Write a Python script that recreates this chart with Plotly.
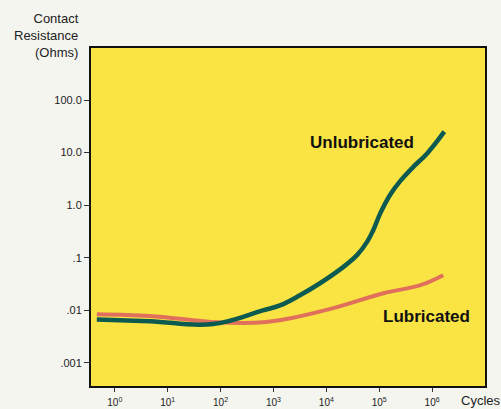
import plotly.graph_objects as go

# Contact resistance (ohms) versus switching cycles
unlub_cycles = [0.457, 4.57, 72, 631, 1330, 3160, 7590, 18200, 38000, 58900,
                77600, 105000, 162000, 251000, 437000, 813000, 1700000]
unlub_ohms = [0.0067, 0.0062, 0.0055, 0.0100, 0.0124, 0.0193, 0.0327, 0.0600, 0.112, 0.200,
              0.340, 0.705, 1.60, 2.90, 5.30, 9.77, 25.0]

lub_cycles = [0.457, 4.57, 89, 631, 1995, 13490, 120000, 603000, 1620000]
lub_ohms = [0.0084, 0.0078, 0.0059, 0.0059, 0.0070, 0.0110, 0.0211, 0.0300, 0.0464]

x_tickvals = [1, 10, 100, 1000, 10000, 100000, 1000000]
x_ticktext = ["10<sup>0</sup>", "10<sup>1</sup>", "10<sup>2</sup>", "10<sup>3</sup>",
              "10<sup>4</sup>", "10<sup>5</sup>", "10<sup>6</sup>"]
y_tickvals = [100, 10, 1, 0.1, 0.01, 0.001]
y_ticktext = ["100.0", "10.0", "1.0", ".1", ".01", ".001"]

font_family = "Liberation Sans, Arial, sans-serif"

# plot area edges in pixels
plot_l, plot_r, plot_t, plot_b = 91, 485, 48, 386


def px(x):
    return (x - plot_l) / (plot_r - plot_l)


def py(y):
    return (plot_b - y) / (plot_b - plot_t)


fig = go.Figure()
fig.add_trace(go.Scatter(x=lub_cycles, y=lub_ohms, mode="lines",
                         line=dict(color="#e0705c", width=4, shape="spline", smoothing=1.0),
                         name="Lubricated"))
fig.add_trace(go.Scatter(x=unlub_cycles, y=unlub_ohms, mode="lines",
                         line=dict(color="#0c5a50", width=4.5, shape="spline", smoothing=1.2),
                         name="Unlubricated"))

fig.add_annotation(x=px(362), y=py(142), xref="paper", yref="paper",
                   text="<b>Unlubricated</b>", xanchor="center", yanchor="middle",
                   showarrow=False, font=dict(family=font_family, size=17, color="#111"))
fig.add_annotation(x=px(426), y=py(316), xref="paper", yref="paper",
                   text="<b>Lubricated</b>", xanchor="center", yanchor="middle",
                   showarrow=False, font=dict(family=font_family, size=17, color="#111"))
fig.add_annotation(x=px(481), y=py(400), xref="paper", yref="paper", text="Cycles",
                   showarrow=False, xanchor="center", yanchor="middle",
                   font=dict(family=font_family, size=13, color="#222"))
fig.add_annotation(x=px(81), y=py(9), xref="paper", yref="paper",
                   text="Contact<br>Resistance<br>(Ohms)", align="right",
                   showarrow=False, xanchor="right", yanchor="top",
                   font=dict(family=font_family, size=13, color="#222"))

fig.update_layout(
    width=501, height=409,
    margin=dict(l=plot_l, r=501 - plot_r, t=plot_t, b=409 - plot_b, autoexpand=False),
    paper_bgcolor="#f5f5ef",
    plot_bgcolor="#f9e443",
    showlegend=False,
    font=dict(family=font_family, color="#222"),
)
fig.update_xaxes(type="log", range=[-0.45, 7.0], tickvals=x_tickvals, ticktext=x_ticktext,
                 showgrid=False, zeroline=False, ticks="outside", ticklen=4,
                 tickcolor="#333", showline=True, linecolor="#111", linewidth=2,
                 mirror=True, tickfont=dict(size=10, color="#222"), ticklabelstandoff=2)
fig.update_yaxes(type="log", range=[-3.44, 2.99], tickvals=y_tickvals, ticktext=y_ticktext,
                 showgrid=False, zeroline=False, ticks="outside", ticklen=5,
                 tickcolor="#333", showline=True, linecolor="#111", linewidth=2,
                 mirror=True, tickfont=dict(size=11, color="#222"))

fig.write_html("out.html")
